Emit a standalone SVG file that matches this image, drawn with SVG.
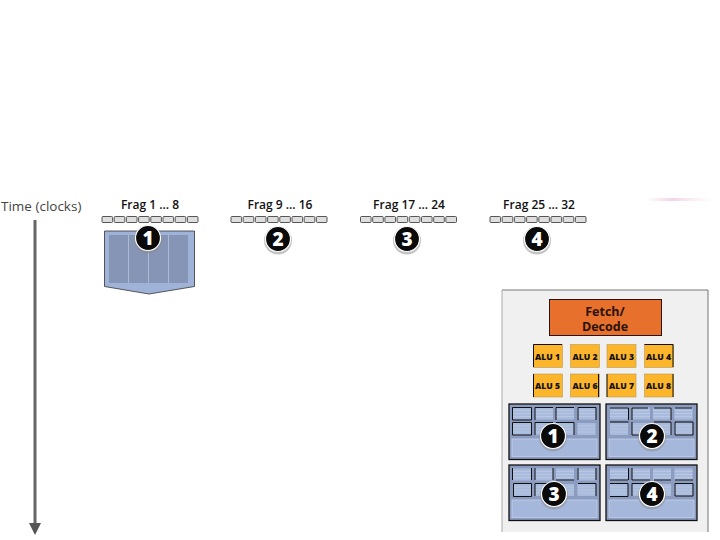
<svg xmlns="http://www.w3.org/2000/svg" width="720" height="540" viewBox="0 0 720 540">
<style>
text{font-family:"Open Sans","Liberation Sans",sans-serif;text-anchor:middle}
.time{font-size:13.5px;fill:#444;text-anchor:start}
.frag{font-size:12px;font-weight:600;fill:#111}
.slot{fill:#dedede;stroke:#444;stroke-width:.9}
.num{fill:#fff;font-size:19px;font-weight:800}
.disc{fill:#0a0a0a;stroke:#fff;stroke-width:1.2}
.halo{fill:#8a8a8a;opacity:.5}
.alu{fill:#fdb62c;stroke:#b89a50;stroke-width:.6}
.edge{fill:none;stroke:#111;stroke-width:1}
.alut{font-size:8.600px;font-weight:800;fill:#111}
.fd{font-size:12.500px;font-weight:700;fill:#2a1208}
.cell{fill:#a9bbdc}
.rule{stroke:#c4d0e6;stroke-width:.6}
</style>
<defs>
<linearGradient id="smudge" x1="0" x2="1" y1="0" y2="0"><stop offset="0" stop-color="#f6d8ec" stop-opacity="0"/><stop offset=".4" stop-color="#f3d3e8"/><stop offset="1" stop-color="#f8e8f2" stop-opacity="0"/></linearGradient>
<g id="slots">
<rect class="slot" x="0" y="0" width="10.600" height="6" rx="1"/><rect class="slot" x="12.200" y="0" width="10.600" height="6" rx="1"/><rect class="slot" x="24.400" y="0" width="10.600" height="6" rx="1"/><rect class="slot" x="36.600" y="0" width="10.600" height="6" rx="1"/><rect class="slot" x="48.800" y="0" width="10.600" height="6" rx="1"/><rect class="slot" x="61" y="0" width="10.600" height="6" rx="1"/><rect class="slot" x="73.200" y="0" width="10.600" height="6" rx="1"/><rect class="slot" x="85.400" y="0" width="10.600" height="6" rx="1"/>
</g>
<g id="cell">
<rect class="cell" x="0" y="0" width="18" height="12"/>
<path class="rule" d="M0 3H18M0 6H18M0 9H18"/>
</g>
<g id="block">
<rect x="0" y="0" width="91" height="55.500" fill="#8c9cc0" stroke="#111" stroke-width="1.300"/>
<use href="#cell" x="4" y="3.500"/><use href="#cell" x="26" y="3.500"/><use href="#cell" x="47" y="3.500"/><use href="#cell" x="68.500" y="3.500"/>
<use href="#cell" x="4" y="19"/><use href="#cell" x="26" y="19"/><use href="#cell" x="47" y="19"/><use href="#cell" x="68.500" y="19"/>
<rect x="3" y="35" width="85" height="17.500" fill="#a5b8dc" stroke="#c3d0e8" stroke-width=".8"/>
</g>
</defs>

<rect width="720" height="540" fill="#fff"/>
<rect x="645" y="198" width="70" height="3" fill="url(#smudge)"/>

<g id="connectors">
<path d="M35 220V524" stroke="#666" stroke-width="3" fill="none"/>
<path d="M29 523H41L35 535Z" fill="#555"/>
</g>

<g id="time-label"><text class="time" x="1" y="211">Time (clocks)</text></g>

<g id="frag-1"><text class="frag" x="150" y="208.500">Frag 1 … 8</text><use href="#slots" x="102" y="216.500"/></g>
<g id="frag-2"><text class="frag" x="280" y="208.500">Frag 9 … 16</text><use href="#slots" x="231" y="216.500"/></g>
<g id="frag-3"><text class="frag" x="409" y="208.500">Frag 17 … 24</text><use href="#slots" x="360.500" y="216.500"/></g>
<g id="frag-4"><text class="frag" x="539" y="208.500">Frag 25 … 32</text><use href="#slots" x="490" y="216.500"/></g>

<g id="work-1">
<path d="M104.500 231H194.500V286.500L149 294L104.500 286.500Z" fill="#9fb3d9" stroke="#333" stroke-width=".8"/>
<rect x="109" y="235" width="79" height="48" fill="#8695b5"/>
<path d="M128.500 235V283M148.500 235V283M168.500 235V283" stroke="#b8c4dc" stroke-width=".8"/>
</g>

<g id="badge-1"><circle class="halo" cx="148" cy="239.500" r="14"/><circle class="disc" cx="148" cy="238" r="12.500"/><text class="num" x="148" y="245">1</text></g>
<g id="badge-2"><circle class="halo" cx="278" cy="240.500" r="14"/><circle class="disc" cx="278" cy="239" r="12.500"/><text class="num" x="278" y="246">2</text></g>
<g id="badge-3"><circle class="halo" cx="407" cy="240.500" r="14"/><circle class="disc" cx="407" cy="239" r="12.500"/><text class="num" x="407" y="246">3</text></g>
<g id="badge-4"><circle class="halo" cx="537" cy="240.500" r="14"/><circle class="disc" cx="537" cy="239" r="12.500"/><text class="num" x="537" y="246">4</text></g>

<g id="panel">
<rect x="502" y="290" width="206" height="242" fill="#f0f0f0"/>
<path d="M502 290H708V532" fill="none" stroke="#777" stroke-width="1"/>
<path d="M502 290V532" fill="none" stroke="#aaa" stroke-width="1"/>
</g>

<g id="fetch-decode">
<rect x="549.500" y="299.500" width="112" height="36" fill="#e6702c" stroke="#2a1208" stroke-width="1"/>
<text class="fd" x="605" y="315.500">Fetch/</text><text class="fd" x="605" y="331">Decode</text>
</g>

<g id="alu-1"><rect class="alu" x="533.500" y="344.500" width="29" height="23"/><path class="edge" d="M533.500 367V344.500H562"/><text class="alut" x="547.500" y="360">ALU 1</text></g>
<g id="alu-2"><rect class="alu" x="570.500" y="344.500" width="29" height="23"/><text class="alut" x="585" y="360">ALU 2</text></g>
<g id="alu-3"><rect class="alu" x="607" y="344.500" width="29" height="23"/><text class="alut" x="621.500" y="360">ALU 3</text></g>
<g id="alu-4"><rect class="alu" x="644.500" y="344.500" width="29" height="23"/><path class="edge" d="M644.500 344.500H673V367"/><text class="alut" x="658.500" y="360">ALU 4</text></g>
<g id="alu-5"><rect class="alu" x="533.500" y="374" width="29" height="23"/><path class="edge" d="M533.500 374V397"/><text class="alut" x="547.500" y="389">ALU 5</text></g>
<g id="alu-6"><rect class="alu" x="570.500" y="374" width="29" height="23"/><path class="edge" d="M598.500 374V397"/><text class="alut" x="585" y="389">ALU 6</text></g>
<g id="alu-7"><rect class="alu" x="607" y="374" width="29" height="23"/><path class="edge" d="M607 374V397"/><text class="alut" x="621.500" y="389">ALU 7</text></g>
<g id="alu-8"><rect class="alu" x="644.500" y="374" width="29" height="23"/><path class="edge" d="M673 374V397"/><text class="alut" x="658.500" y="389">ALU 8</text></g>

<g id="thread-1">
<use href="#block" x="509" y="404"/>
<path class="edge" d="M512.500 407.500H531.500V420H512.500ZM535 420V407.500H553M556 420V407.500H574M578 420V407.500H596V420M512.500 422.500H531.500V435H512.500ZM535 435V422.500H553M556 422.500H574V435"/>
<circle class="halo" cx="553" cy="437.500" r="14"/><circle class="disc" cx="553" cy="436" r="12.500"/><text class="num" x="553" y="443">1</text>
</g>
<g id="thread-2">
<use href="#block" x="606" y="404"/>
<path class="edge" d="M610 408H628.500V420M632 420V408H648M654 408H671V420M675 408H692M610 422H628.500M632 422V435H648M654 422H671V435M675 422H693V435H675Z"/>
<circle class="halo" cx="652" cy="437.500" r="14"/><circle class="disc" cx="652" cy="436" r="12.500"/><text class="num" x="652" y="443">2</text>
</g>
<g id="thread-3">
<use href="#block" x="509" y="465"/>
<path class="edge" d="M512.500 468V480M531.500 468V480M535 468V480M553 468V480M556 480H574M578 468V480M596 468V480M513.500 483.500H531.500V496.500H513.500ZM535 496V483.500H553M578 483.500H596V496"/>
<circle class="halo" cx="554" cy="495.500" r="14"/><circle class="disc" cx="554" cy="494" r="12.500"/><text class="num" x="554" y="501">3</text>
</g>
<g id="thread-4">
<use href="#block" x="606" y="465"/>
<path class="edge" d="M610 480H628M628.500 468V480M632 480V468M632 480H650M654 480H671M675 480H693M610 483.500H628V496.500H610M632 496V483.500H648M675 483.500H693V496H675Z"/>
<circle class="halo" cx="652" cy="495.500" r="14"/><circle class="disc" cx="652" cy="494" r="12.500"/><text class="num" x="652" y="501">4</text>
</g>
</svg>
